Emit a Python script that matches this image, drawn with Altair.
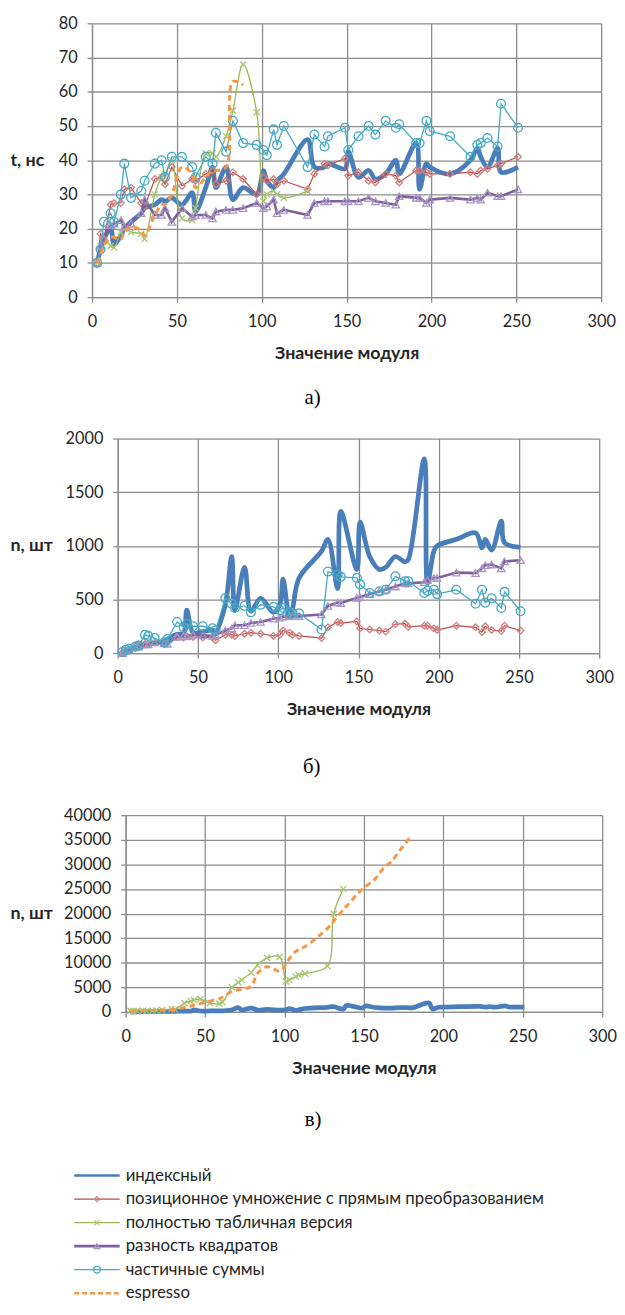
import altair as alt
import pandas as pd

moduli = [3, 5, 7, 11, 13, 17, 19, 23, 29, 31, 37, 41, 43, 47, 53, 59, 61, 67, 71, 73,
          79, 83, 89, 97, 101, 103, 107, 109, 113, 127, 131, 137, 139, 149, 151, 157,
          163, 167, 173, 179, 181, 191, 193, 197, 199, 211, 223, 227, 229, 233, 239, 241, 251]

series_names = ["индексный",
                "позиционное умножение с прямым преобразованием",
                "полностью табличная версия",
                "разность квадратов",
                "частичные суммы",
                "espresso"]

# panel a) time, ns
t_index = [10, 14, 17, 20, 15.5, 18, 20, 22, 24.5, 26, 27, 28.5, 28, 29, 27, 30.5, 25, 32, 38, 32,
           38, 28.5, 32, 30, 37, 34, 32, 34, 36, 46, 38, 38, 39, 37.5, 42.5, 35, 37, 34.5, 36, 40,
           36, 45, 31.5, 39, 38, 36, 40, 43.5, 41, 38, 43.5, 36.5, 38]
t_pos = [10, 18.5, 17, 27, 27.5, 27.5, 31.5, 32, 27.5, 26.5, 34.5, 35, 33, 38, 32.5, 34.5, 34, 36, 37, 33,
         34, 36.5, 34.5, 30, 35, 34, 34.5, 33, 34, 31.5, 36, 39, 38.5, 40.5, 35.5, 36.5, 34, 33.5, 36, 35.5,
         33.5, 37, 37, 36.5, 36, 36, 36.5, 36, 37, 37.5, 38.5, 39, 41]
t_table = [10, 15, 17, 15, 14.5, 19, 20, 19, 18.5, 17, 30, 35, 36, 40, 23, 22.5, 26, 42, 42, 41,
           47, 54.5, 68, 54, 28, 30, 31, 30, 29, 31]
t_diff = [10, 15, 17, 21, 21.5, 22.5, 20.5, 21.5, 24.5, 28.5, 24, 24, 26, 22, 26, 23.5, 24, 24, 23, 25,
          25.5, 25.5, 26, 27.5, 26, 26.5, 28.5, 24.5, 25.5, 24, 27.5, 28, 28, 28, 28, 28, 29, 28, 27.5, 27,
          29.5, 29, 29, 27.5, 28.5, 29, 28.5, 29, 28.5, 30.5, 29.5, 29.5, 31.5]
t_partial = [10, 14, 22, 24.5, 22, 30, 39, 29, 31, 34, 39, 40, 35, 41, 41, 38, 35, 41, 39, 48,
             42.5, 51.5, 45, 44.5, 43, 41.5, 49, 44.5, 50, 38, 47.5, 44, 47, 49.5, 43, 47, 50, 47.5, 51.5, 49.5,
             50.5, 45, 45, 51.5, 48.5, 47, 41, 44.5, 45, 46.5, 44, 56.5, 49.5]
t_espresso = [10, 12.5, 15, 17.5, 17.5, 17, 19, 20.5, 19.5, 18, 24, 27, 27, 30, 38, 36, 32, 35, 37, 37,
              38, 63, 62]

# panel b) count
n_index = [0, 15, 25, 50, 55, 70, 80, 95, 110, 130, 175, 180, 400, 190, 200, 215, 200, 450, 900, 400,
           800, 390, 510, 380, 450, 690, 330, 420, 700, 950, 1060, 600, 1320, 780, 1220, 900, 780, 800, 900, 850,
           870, 1810, 650, 950, 1000, 1060, 1120, 980, 1060, 960, 1230, 1030, 985]
n_pos = [5, 20, 35, 65, 80, 85, 90, 100, 90, 100, 150, 145, 160, 150, 145, 145, 120, 170, 170, 160,
         180, 190, 180, 160, 170, 210, 190, 170, 160, 140, 240, 290, 280, 295, 230, 220, 210, 200, 270, 275,
         245, 255, 255, 230, 215, 255, 240, 195, 250, 215, 205, 255, 210]
n_diff = [0, 20, 30, 55, 60, 80, 80, 100, 90, 85, 150, 160, 155, 170, 165, 160, 170, 210, 230, 260,
          260, 280, 290, 320, 330, 340, 345, 345, 345, 360, 440, 470, 465, 515, 520, 550, 575, 590, 620, 650,
          650, 660, 680, 700, 700, 750, 745, 790, 820, 825, 790, 855, 865]
n_partial = [10, 30, 40, 60, 70, 170, 160, 140, 100, 130, 290, 240, 270, 250, 250, 230, 210, 510, 460, 420,
             440, 380, 450, 430, 400, 420, 380, 370, 370, 220, 760, 730, 710, 700, 640, 560, 575, 590, 715, 670,
             670, 560, 580, 590, 550, 590, 460, 590, 470, 510, 420, 570, 390]

# panel c) count, large scale
n_table = [200, 150, 200, 250, 200, 250, 300, 400, 600, 500, 1800, 2200, 2400, 2600, 1800, 1700, 2000, 5000, 6000, 6500,
           8000, 9500, 11000, 11200, 6200, 6500, 7200, 7500, 7800, 9300, 20000, 25000]
n_espresso = [200, 200, 200, 250, 250, 300, 350, 400, 450, 550, 900, 1200, 1400, 1700, 2200, 2700, 3000, 4200, 4500, 4600,
              5200, 7800, 9200, 8300, 9700, 10800, 12300, 12700, 13300, 17000, 18500, 20800, 21500, 25000, 25500,
              27000, 29500, 30500, 33000, 35500]

x_ticks = [0, 50, 100, 150, 200, 250, 300]

FONT = "Lato, 'Open Sans', sans-serif"
GRID = "#8c8c8c"

STYLES = [
    dict(color="#4A7EBB", width=4.8, interp="catmull-rom", dash=None, shape=None, mcolor=None, msize=0, legw=2.5),
    dict(color="#BE4B48", width=1.2, interp="linear", dash=None, shape="diamond", mcolor="#D0807E", msize=45, legw=1.3),
    dict(color="#98B954", width=1.3, interp="catmull-rom", dash=None, shape="M-1,-1L1,1M-1,1L1,-1", mcolor="#A9C772", msize=40, legw=1.3),
    dict(color="#7D60A0", width=2.6, interp="linear", dash=None, shape="triangle-up", mcolor="#A995C4", msize=55, legw=2.6),
    dict(color="#46AAC5", width=1.3, interp="linear", dash=None, shape="circle", mcolor="#46AAC5", msize=80, legw=1.3),
    dict(color="#F79646", width=3, interp="catmull-rom", dash=[6, 4], shape=None, mcolor=None, msize=0, legw=2.5),
]


def spacer():
    d = pd.DataFrame({"a": [0]})
    return alt.Chart(d).mark_rule(opacity=0, strokeWidth=0).encode(
        x=alt.value(0), y=alt.value(0), y2=alt.value(1)).properties(width=1, height=1)


def panel(series, ydomain, ystep, width, height, ytitle, title_x, caption, cap_offset):
    xenc = alt.X("x:Q", scale=alt.Scale(domain=[0, 300], nice=False, zero=False),
                 axis=alt.Axis(values=x_ticks, title="Значение модуля", labelFlush=False,
                               labelPadding=12, titlePadding=15))
    yticks = list(range(ydomain[0], ydomain[1] + 1, ystep))
    yenc = alt.Y("y:Q", scale=alt.Scale(domain=ydomain, nice=False),
                 axis=alt.Axis(values=yticks, format="d", title=ytitle, titleAngle=0, titleAlign="left",
                               titleBaseline="middle", titleX=title_x, titleY=height / 2,
                               labelPadding=10))
    layers = []
    for idx, vals in series:
        st = STYLES[idx]
        df = pd.DataFrame({"x": moduli[:len(vals)], "y": vals})
        line_kw = dict(color=st["color"], strokeWidth=st["width"], interpolate=st["interp"])
        if st["dash"]:
            line_kw["strokeDash"] = st["dash"]
        layers.append(alt.Chart(df).mark_line(**line_kw).encode(x=xenc, y=yenc))
        if st["shape"]:
            layers.append(alt.Chart(df).mark_point(shape=st["shape"], filled=False, stroke=st["mcolor"],
                                                   strokeWidth=1.3, size=st["msize"], opacity=1)
                          .encode(x=xenc, y=yenc))
    body = alt.layer(*layers).properties(
        width=width, height=height,
        title=alt.TitleParams(caption, orient="bottom", anchor="middle", frame="bounds",
                              font="'Liberation Serif', 'Times New Roman', serif", fontSize=21,
                              fontWeight="normal", color="#000", offset=cap_offset))
    return alt.hconcat(spacer(), body, spacing=0)


chart_a = panel([(0, t_index), (1, t_pos), (2, t_table), (3, t_diff), (4, t_partial), (5, t_espresso)],
                [0, 80], 10, 515, 277, "t, нс", -83, "а)", 25)
chart_b = panel([(0, n_index), (1, n_pos), (3, n_diff), (4, n_partial)],
                [0, 2000], 500, 487, 217, "n, шт", -109, "б)", 38)
chart_c = panel([(0, n_index), (2, n_table), (5, n_espresso)],
                [0, 40000], 5000, 482, 199, "n, шт", -117, "в)", 32)

# legend panel built from the series names
yleg = alt.Y("name:N", scale=alt.Scale(domain=series_names, type="point", padding=0.4), axis=None)
leg_layers = []
for i, name in enumerate(series_names):
    st = STYLES[i]
    d = pd.DataFrame({"name": [name]})
    rule_kw = dict(color=st["color"], strokeWidth=st["legw"])
    if st["dash"]:
        rule_kw["strokeDash"] = [5, 3]
    leg_layers.append(alt.Chart(d).mark_rule(**rule_kw).encode(x=alt.value(66), x2=alt.value(112), y=yleg))
    if st["shape"]:
        leg_layers.append(alt.Chart(d).mark_point(shape=st["shape"], filled=False, stroke=st["mcolor"],
                                                  strokeWidth=1.2, size=max(st["msize"] * 0.6, 25), opacity=1)
                          .encode(x=alt.value(89), y=yleg))
    leg_layers.append(alt.Chart(d).mark_text(align="left", baseline="middle", font=FONT, fontSize=17,
                                             color="#262626")
                      .encode(x=alt.value(118), y=yleg, text="name:N"))
legend = alt.layer(*leg_layers).properties(width=540, height=138)

top = alt.vconcat(chart_a, chart_b, spacing=22)
panels = alt.vconcat(top, chart_c, spacing=30)
chart = alt.vconcat(panels, legend, spacing=36).properties(
    padding={"left": 1, "right": 0, "top": 0, "bottom": 0}
).configure_view(strokeWidth=0).configure_axis(
    gridColor=GRID, gridWidth=1.3, domainColor=GRID, domainWidth=1.3, tickColor=GRID, tickWidth=1.3,
    tickSize=5, labelFont=FONT, labelFontSize=16.5, labelColor="#262626",
    titleFont=FONT, titleFontSize=18, titleFontWeight="bold", titleColor="#262626"
)

chart.save("out.html", embed_options={"renderer": "svg", "actions": False})
